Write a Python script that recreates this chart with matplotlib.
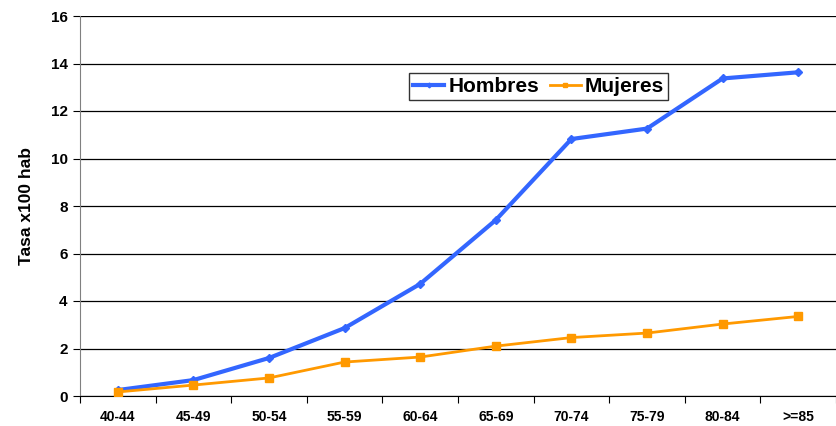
import matplotlib
matplotlib.use("Agg")
import matplotlib.pyplot as plt
import numpy as np

# data
grupos = ["40-44", "45-49", "50-54", "55-59", "60-64", "65-69", "70-74", "75-79", "80-84", ">=85"]
hombres = [0.25, 0.67, 1.60, 2.86, 4.72, 7.41, 10.82, 11.26, 13.37, 13.63]
mujeres = [0.17, 0.46, 0.76, 1.43, 1.64, 2.10, 2.46, 2.65, 3.03, 3.35]

plt.rcParams['font.family'] = ['Liberation Sans', 'DejaVu Sans']

fig = plt.figure(figsize=(8.36, 4.26), dpi=100)
ax = fig.add_axes([80/836, 30/426, 756/836, 380/426])

x = np.arange(len(grupos))
ax.plot(x, hombres, color="#3366FF", lw=3, marker="D", ms=4, label="Hombres", zorder=3)
ax.plot(x, mujeres, color="#FF9900", lw=2, marker="s", ms=6, label="Mujeres", zorder=3)

ax.set_xlim(-0.5, len(grupos) - 0.5)
ax.set_ylim(0, 16)
ax.set_yticks(np.arange(0, 17, 2))
ax.yaxis.grid(True, color="black", lw=0.9)
ax.set_axisbelow(True)

# category boundary ticks on x
ax.set_xticks(np.arange(len(grupos) + 1) - 0.5)
ax.set_xticklabels([])
ax.set_xticks(x, minor=True)
ax.set_xticklabels(grupos, minor=True, fontsize=10, fontweight="bold")
ax.tick_params(axis="x", which="minor", length=0, pad=10)
ax.tick_params(axis="x", which="major", length=5, color="black")
ax.tick_params(axis="y", length=5, labelsize=11, pad=4)
for lab in ax.get_yticklabels():
    lab.set_fontweight("bold")

ax.spines["top"].set_visible(False)
ax.spines["right"].set_visible(False)
ax.spines["left"].set_color("#808080")
ax.spines["bottom"].set_color("black")

ax.set_ylabel("Tasa x100 hab", fontsize=12.5, fontweight="bold", labelpad=12)

leg = ax.legend(loc="upper left", bbox_to_anchor=(0.435, 0.85), ncol=2,
                prop={"weight": "bold", "size": 15}, borderaxespad=0,
                frameon=True, fancybox=False, edgecolor="black",
                handlelength=1.5, columnspacing=0.5, handletextpad=0.2,
                borderpad=0.2, markerscale=0.6)
leg.get_frame().set_linewidth(1.0)

fig.savefig("out.png", dpi=100)
